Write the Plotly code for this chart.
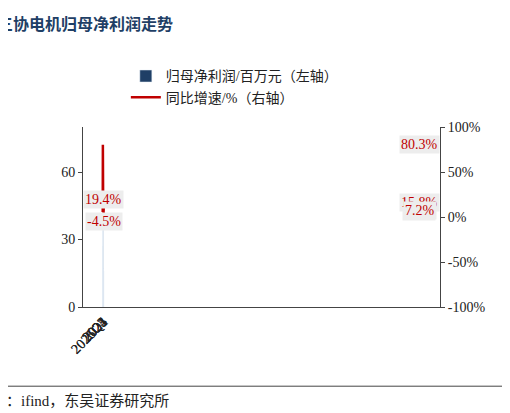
import plotly.graph_objects as go

cats = ["2022", "2023", "2024", "2025", "gap", "2025Q1", "2026Q1"]
tick_labels = ["2022", "2023", "2024", "2025", "", "2025Q1", "2026Q1"]
profit = [27, 49, 56, 60, None, 17, 16]
growth = [5.6, 80.3, 15.8, 7.2, None, 19.4, -4.5]
right_ticks = [-100, -50, 0, 50, 100]
right_labels = ["-100%", "-50%", "0%", "50%", "100%"]

navy = "#1F3F66"
red = "#C00000"
font = "Liberation Serif, Noto Sans CJK SC, serif"

fig = go.Figure()
fig.add_trace(go.Bar(x=cats, y=profit, name="归母净利润/百万元（左轴）", marker_color=navy,
                     width=0.45, text=[str(v) if v is not None else "" for v in profit],
                     textposition="outside", textfont=dict(size=14, color="#222"), cliponaxis=False))
fig.add_trace(go.Scatter(x=cats, y=growth, name="同比增速/%（右轴）", yaxis="y2", mode="lines",
                         line=dict(color=red, width=2.5), connectgaps=False))
for c, g in zip(cats, growth):
    if g is not None:
        fig.add_annotation(x=c, y=g, yref="y2", text=f"{g}%", showarrow=False,
                           bgcolor="#EDEDED", font=dict(color=red, size=14, family=font))

fig.update_layout(
    width=510, height=413, margin=dict(l=75, r=78, t=119, b=114),
    paper_bgcolor="white", plot_bgcolor="white", font=dict(family=font, size=14, color="#222"),
    showlegend=True,
    legend=dict(x=0.12, y=1.37, xanchor="left", yanchor="top", orientation="v",
                font=dict(size=14), tracegroupgap=8),
    xaxis=dict(type="category", categoryorder="array", categoryarray=cats,
               tickvals=cats, ticktext=tick_labels, tickangle=-45, showline=True, linecolor="#444",
               ticks="", showgrid=False),
    yaxis=dict(range=[0, 80], tickvals=[0, 30, 60], showline=True, linecolor="#444", ticks="outside",
               ticklen=4, showgrid=False, zeroline=False),
    yaxis2=dict(overlaying="y", side="right", range=[-100, 100], tickvals=right_ticks,
                ticktext=right_labels, showline=True, linecolor="#444", ticks="outside", ticklen=4,
                showgrid=False, zeroline=False),
)
fig.add_annotation(xref="paper", yref="paper", x=-0.39, y=1.58, xanchor="left", yanchor="middle",
                   text="<b>图17：三协电机归母净利润走势</b>", showarrow=False,
                   font=dict(size=16, color=navy, family="Noto Sans CJK SC, serif"))
fig.add_shape(type="line", xref="paper", yref="paper", x0=-0.4, x1=1.2, y0=-0.44, y1=-0.44,
              line=dict(color="#444", width=1))
fig.add_annotation(xref="paper", yref="paper", x=-0.39, y=-0.52, xanchor="left", yanchor="middle",
                   text="数据来源：ifind，东吴证券研究所", showarrow=False,
                   font=dict(size=15, color="#222", family=font))
fig.write_html("out.html")
